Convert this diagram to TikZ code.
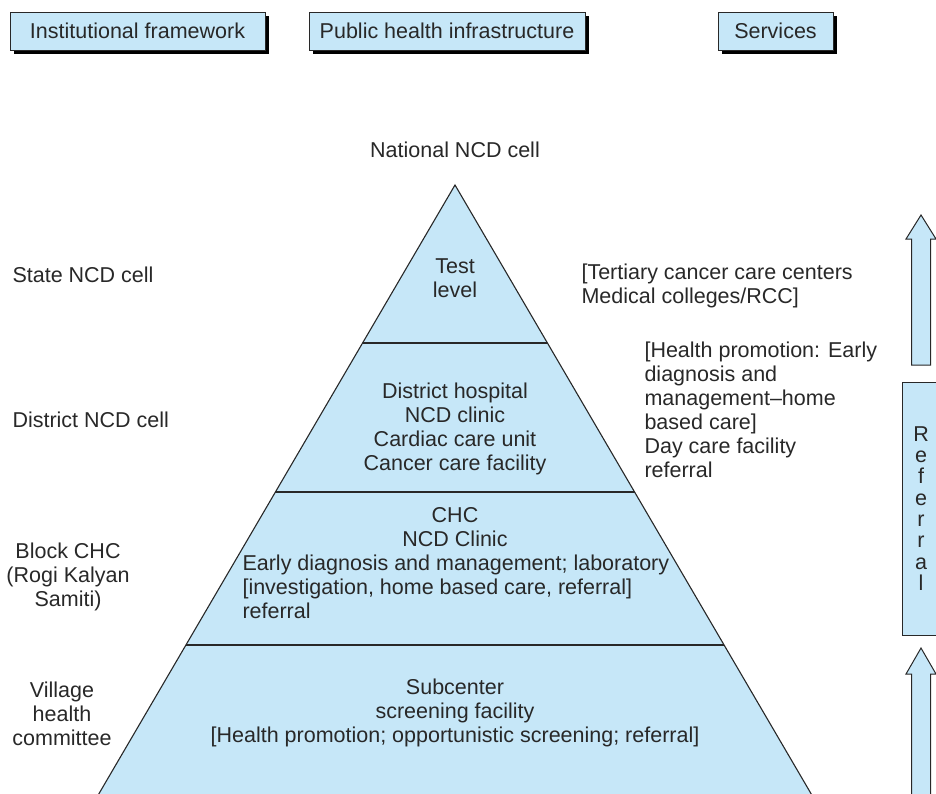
\documentclass[tikz,border=0pt]{standalone}
\usepackage{fontspec}
\setmainfont{Liberation Sans}
\usetikzlibrary{calc,shadows,positioning}

\definecolor{pyrblue}{RGB}{198,231,248}
\definecolor{inkgray}{RGB}{40,40,40}

\begin{document}
\begin{tikzpicture}[
        x=1pt, y=-1pt,
        every node/.style={text=inkgray, font=\fontsize{21.5}{24}\selectfont},
        topbox/.style={
            draw=inkgray,
            fill=pyrblue,
            minimum height=38pt,
            inner sep=0pt,
            drop shadow={shadow xshift=4pt, shadow yshift=-4pt, opacity=1, fill=black}
        },
        sidetext/.style={align=left, anchor=west},
        tiertext/.style={align=center},
        pyramid/.style={draw=inkgray, fill=pyrblue, line width=1.1pt},
        divider/.style={draw=inkgray, line width=1.1pt},
        bigarrow/.style={draw=inkgray, fill=pyrblue, line width=1pt}
    ]

    \useasboundingbox (0,0) rectangle (936,793);
    \clip (0,0) rectangle (936,793);

    % column headings
    \node[topbox, minimum width=255pt] (inst) at (137.5,31) {Institutional framework};
    \node[topbox, minimum width=276pt] (infra) at (447,31) {Public health infrastructure};
    \node[topbox, minimum width=115pt] (serv) at (775.5,31) {Services};

    % pyramid
    \coordinate (apex) at (455,185);
    \coordinate (bl) at (93.5,803);
    \coordinate (br) at (816.5,803);
    \draw[pyramid] (apex) -- (bl) -- (br) -- cycle;
    \foreach \t in {0.2557, 0.4968, 0.7443} {
        \draw[divider] ($(apex)!\t!(bl)$) -- ($(apex)!\t!(br)$);
    }

    \node (national) at (455,150) {National NCD cell};
    \node[tiertext] (test) at (455,278) {Test\\level};
    \node[tiertext] (district) at (455,429) {District hospital\\NCD clinic\\Cardiac care unit\\Cancer care facility};
    \node[tiertext] (chc) at (455,527) {CHC\\NCD Clinic};
    \node[sidetext] (chcsvc) at (239,587) {Early diagnosis and management; laboratory\\{[investigation, home based care, referral]}\\referral};
    \node[tiertext] (sub) at (455,713) {Subcenter\\screening facility\\{[Health promotion; opportunistic screening; referral]}};

    % institutional framework
    \node[sidetext] (state) at (9,275) {State NCD cell};
    \node[sidetext] (distcell) at (9,420) {District NCD cell};
    \node[tiertext] (block) at (68,577) {Block CHC\\(Rogi Kalyan\\Samiti)};
    \node[tiertext] (village) at (62,714) {Village\\health\\committee};

    % services
    \node[sidetext] (tertiary) at (578,286) {[Tertiary cancer care centers\\Medical colleges/RCC]};
    \node[sidetext] (promo) at (641,410) {[Health promotion: Early\\diagnosis and\\management--home\\based care]\\Day care facility\\referral};

    % referral column
    \node[draw=inkgray, fill=pyrblue, line width=1pt, minimum width=38pt, minimum height=253pt,
          inner sep=0pt, align=center, font=\fontsize{21.5}{21.3}\selectfont] (referral) at (921,508.5)
          {R\\e\\f\\e\\r\\r\\a\\l};
    \draw[bigarrow] (911.5,365) -- (911.5,239) -- (906,239) -- (921,215) -- (936,239)
        -- (930.5,239) -- (930.5,365) -- cycle;
    \draw[bigarrow] (911.5,800) -- (911.5,674) -- (906,674) -- (921,648) -- (936,674)
        -- (930.5,674) -- (930.5,800) -- cycle;

\end{tikzpicture}
\end{document}
